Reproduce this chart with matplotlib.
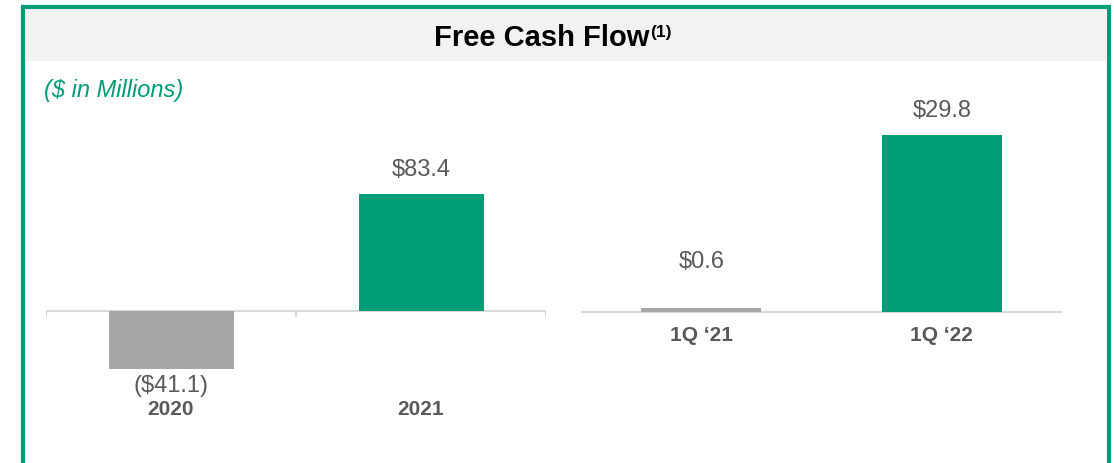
import matplotlib.pyplot as plt
from matplotlib.patches import Rectangle

plt.rcParams['font.family'] = ['Liberation Sans', 'DejaVu Sans']

# data
annual_labels = ["2020", "2021"]
annual_values = [-41.1, 83.4]
annual_text = ["($41.1)", "$83.4"]

quarter_labels = ["1Q \u201821", "1Q \u201822"]
quarter_values = [0.6, 29.8]
quarter_text = ["$0.6", "$29.8"]

GREEN = "#009B77"
GRAY_BAR = "#A6A6A6"
TXT = "#595959"
LINE = "#D9D9D9"


def bar_color(i):
    return GRAY_BAR if i == 0 else GREEN


fig = plt.figure(figsize=(11.14, 4.64), dpi=100)
W, H = 1114, 464

# frame and title band
fig.patches.append(Rectangle((23 / W, -0.1), 1086 / W, 1.1 - 8 / H, transform=fig.transFigure,
                             facecolor="none", edgecolor=GREEN, lw=3.0, zorder=0))
fig.patches.append(Rectangle((25 / W, (H - 62) / H), 1082 / W, 52 / H, transform=fig.transFigure,
                             facecolor="#F2F2F2", edgecolor="none", zorder=0))
title = fig.text(542 / W, (H - 38) / H, "Free Cash Flow", ha="center", va="center",
                 fontsize=21, fontweight="bold", color="black")
fig.add_artist(plt.Annotation("(1)", xy=(1, 0.42), xycoords=title, xytext=(0.5, 0),
                              textcoords="offset points", ha="left", va="bottom",
                              fontsize=12.5, fontweight="bold", color="black"))
fig.text(44 / W, (H - 90) / H, "($ in Millions)", ha="left", va="center",
         fontsize=17, style="italic", color=GREEN)

ax1 = fig.add_axes([46 / W, 64 / H, 500 / W, 320 / H])
ax2 = fig.add_axes([581 / W, 64 / H, 481 / W, 320 / H])

for ax in (ax1, ax2):
    for s in ax.spines.values():
        s.set_visible(False)
    ax.set_xticks([])
    ax.set_yticks([])
    ax.set_xlim(-0.5, 1.5)
    ax.axhline(0, color=LINE, lw=1.5, zorder=1)

# annual panel
ax1.set_ylim(-62.7, 165.4)
x1 = range(len(annual_values))
ax1.bar(x1, annual_values, width=0.5, color=[bar_color(i) for i in x1], zorder=2)
ax1.vlines([-0.5, 0.5, 1.5], 0, -4.3, color=LINE, lw=1.5, zorder=1)
for i, (v, t) in enumerate(zip(annual_values, annual_text)):
    off = 18 if v >= 0 else -12
    ax1.annotate(t, (i, v), xytext=(0, off), textcoords="offset points",
                 ha="center", va="center", fontsize=17, color=TXT)
    ax1.annotate(annual_labels[i], (i, 0), xytext=(0, -70.5), textcoords="offset points",
                 ha="center", va="center", fontsize=15, fontweight="bold", color=TXT)

# quarterly panel
ax2.set_ylim(-14.65, 39.2)
x2 = range(len(quarter_values))
ax2.bar(x2, quarter_values, width=0.5, color=[bar_color(i) for i in x2], zorder=2)
q_offsets = [34, 18]
for i, (v, t) in enumerate(zip(quarter_values, quarter_text)):
    ax2.annotate(t, (i, v), xytext=(0, q_offsets[i]), textcoords="offset points",
                 ha="center", va="center", fontsize=17, color=TXT)
    ax2.annotate(quarter_labels[i], (i, 0), xytext=(0, -16), textcoords="offset points",
                 ha="center", va="center", fontsize=15, fontweight="bold", color=TXT)

fig.savefig("out.png", dpi=100)
